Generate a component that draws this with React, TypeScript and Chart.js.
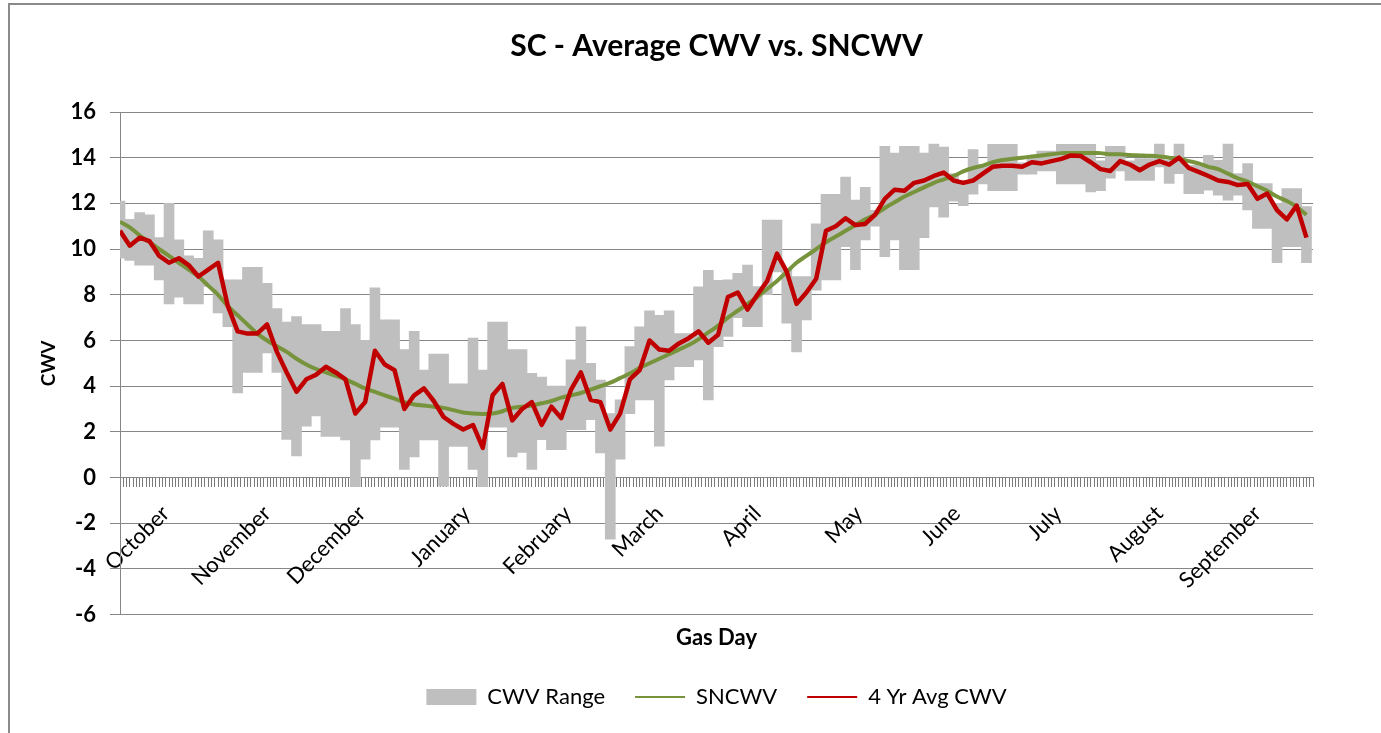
import React, { useEffect, useRef } from 'react';
import { Chart, registerables } from 'chart.js';

Chart.register(...registerables);

// Gas day index (days after 1 October), sampled every 3 days
const gasDays = [
  0, 3, 6, 9, 12, 15, 18, 21, 24, 27,
  30, 33, 36, 39, 42, 45, 48, 51, 54, 57,
  60, 63, 66, 69, 72, 75, 78, 81, 84, 87,
  90, 93, 96, 99, 102, 105, 108, 111, 114, 117,
  120, 123, 126, 129, 132, 135, 138, 141, 144, 147,
  150, 153, 156, 159, 162, 165, 168, 171, 174, 177,
  180, 183, 186, 189, 192, 195, 198, 201, 204, 207,
  210, 213, 216, 219, 222, 225, 228, 231, 234, 237,
  240, 243, 246, 249, 252, 255, 258, 261, 264, 267,
  270, 273, 276, 279, 282, 285, 288, 291, 294, 297,
  300, 303, 306, 309, 312, 315, 318, 321, 324, 327,
  330, 333, 336, 339, 342, 345, 348, 351, 354, 357,
  360, 363,
];

// 4 Yr Avg CWV (red)
const avgCwv = [
  10.8, 10.15, 10.5, 10.35, 9.7, 9.4, 9.6, 9.3, 8.8, 9.1,
  9.4, 7.5, 6.4, 6.3, 6.3, 6.7, 5.5, 4.6, 3.75, 4.3,
  4.5, 4.85, 4.6, 4.3, 2.8, 3.3, 5.55, 4.95, 4.7, 3.0,
  3.6, 3.9, 3.35, 2.65, 2.35, 2.1, 2.3, 1.3, 3.6, 4.1,
  2.5, 3.0, 3.3, 2.3, 3.1, 2.6, 3.85, 4.6, 3.4, 3.3,
  2.1, 2.8, 4.3, 4.7, 6.0, 5.6, 5.55, 5.87, 6.1, 6.4,
  5.9, 6.25, 7.9, 8.1, 7.35, 8.0, 8.6, 9.8, 9.0, 7.6,
  8.1, 8.7, 10.8, 11.0, 11.35, 11.05, 11.1, 11.5, 12.2, 12.6,
  12.55, 12.9, 13.0, 13.2, 13.35, 13.0, 12.9, 13.0, 13.3, 13.6,
  13.65, 13.65, 13.6, 13.8, 13.75, 13.85, 13.95, 14.1, 14.07, 13.8,
  13.5, 13.42, 13.85, 13.7, 13.45, 13.7, 13.85, 13.7, 14.0, 13.55,
  13.38, 13.2, 13.0, 12.94, 12.8, 12.85, 12.2, 12.43, 11.7, 11.3,
  11.9, 10.5,
];

// SNCWV (green)
const sncwv = [
  11.2, 10.95, 10.6, 10.3, 10.0, 9.7, 9.4, 9.1, 8.8, 8.4,
  8.0, 7.5, 7.1, 6.7, 6.3, 6.0, 5.75, 5.5, 5.2, 4.95,
  4.75, 4.6, 4.45, 4.3, 4.1, 3.9, 3.75, 3.6, 3.45, 3.3,
  3.2, 3.15, 3.1, 3.05, 2.95, 2.85, 2.8, 2.78, 2.8, 2.9,
  3.05, 3.1, 3.15, 3.25, 3.35, 3.5, 3.6, 3.7, 3.85, 4.0,
  4.15, 4.35, 4.55, 4.8, 5.0, 5.2, 5.4, 5.6, 5.8, 6.05,
  6.35, 6.65, 7.0, 7.3, 7.6, 7.9, 8.25, 8.6, 9.0, 9.4,
  9.7, 10.0, 10.3, 10.55, 10.8, 11.05, 11.3, 11.5, 11.8, 12.05,
  12.3, 12.5, 12.7, 12.9, 13.05, 13.2, 13.4, 13.55, 13.65, 13.8,
  13.9, 13.95, 14.0, 14.05, 14.1, 14.15, 14.2, 14.2, 14.2, 14.2,
  14.2, 14.15, 14.15, 14.12, 14.1, 14.08, 14.05, 14.0, 13.95, 13.85,
  13.75, 13.6, 13.5, 13.3, 13.1, 12.95, 12.75, 12.55, 12.3, 12.1,
  11.85, 11.5,
];

// CWV Range: minimum
const cwvLow = [
  9.6, 9.5, 9.3, 9.3, 8.65, 7.6, 7.9, 7.6, 7.6, 8.36,
  7.2, 6.6, 3.7, 4.6, 4.6, 5.45, 4.6, 1.67, 0.95, 2.25,
  2.7, 1.8, 1.8, 1.65, -0.4, 0.8, 1.65, 2.2, 2.2, 0.35,
  0.9, 1.65, 1.65, -0.38, 1.36, 1.36, 0.35, -0.4, 2.2, 2.2,
  0.9, 1.1, 0.35, 1.66, 1.22, 1.22, 2.1, 2.1, 2.53, 1.08,
  -2.7, 0.8, 2.8, 3.4, 3.4, 1.37, 4.27, 4.85, 4.85, 5.15,
  3.4, 5.73, 6.18, 7.0, 6.6, 6.6, 8.0, 9.0, 6.76, 5.5,
  6.9, 8.2, 8.65, 8.65, 10.1, 9.1, 10.4, 11.0, 9.67, 10.4,
  9.1, 9.1, 10.5, 11.85, 11.4, 12.1, 11.9, 12.4, 12.85, 12.56,
  12.56, 12.56, 13.28, 13.28, 13.42, 13.42, 12.85, 12.85, 12.85, 12.5,
  12.56, 13.1, 13.42, 13.0, 13.0, 13.0, 13.6, 12.87, 13.3, 12.43,
  12.43, 12.58, 12.36, 12.14, 12.36, 11.71, 10.9, 10.9, 9.4, 10.1,
  10.1, 9.4,
];

// CWV Range: maximum
const cwvHigh = [
  12.1, 11.3, 11.6, 11.5, 10.5, 12.0, 10.4, 9.7, 9.6, 10.8,
  10.4, 8.65, 8.65, 9.2, 9.2, 8.5, 7.4, 6.8, 7.05, 6.7,
  6.7, 6.4, 6.4, 7.4, 6.7, 6.0, 8.3, 6.9, 6.9, 5.6,
  6.4, 4.7, 5.4, 5.4, 4.1, 4.1, 6.1, 4.7, 6.8, 6.8,
  5.6, 5.6, 4.56, 4.4, 4.0, 4.0, 5.15, 6.6, 5.0, 4.27,
  2.8, 3.4, 5.73, 6.6, 7.3, 7.1, 7.3, 6.3, 6.3, 8.35,
  9.07, 8.63, 8.65, 8.94, 9.3, 8.36, 11.27, 11.27, 9.1, 8.8,
  8.8, 11.1, 12.4, 12.4, 13.15, 12.14, 12.7, 11.7, 14.5, 14.2,
  14.5, 14.5, 14.2, 14.6, 14.46, 13.3, 13.0, 14.36, 13.7, 14.58,
  14.58, 14.58, 13.78, 14.1, 14.29, 14.29, 14.58, 14.58, 14.58, 14.58,
  13.86, 14.5, 14.5, 13.86, 13.96, 13.96, 14.6, 13.9, 14.6, 13.67,
  13.67, 14.1, 13.88, 14.6, 13.3, 13.74, 12.87, 12.87, 12.0, 12.65,
  12.65, 11.86,
];

const monthNames = [
  'October', 'November', 'December', 'January', 'February', 'March',
  'April', 'May', 'June', 'July', 'August', 'September',
];
const monthLabelDays = [14, 45, 74, 106, 137, 165, 195, 226, 256, 287, 318, 348];

const TITLE = 'SC - Average CWV vs. SNCWV';
const X_TITLE = 'Gas Day';
const Y_TITLE = 'CWV';
const Y_MIN = -6;
const Y_MAX = 16;
const Y_STEP = 2;
const DAY_COUNT = 365;

const GREY = '#BFBFBF';
const GREEN = '#77933C';
const RED = '#C00000';
const AXIS = '#868686';

export default function App() {
  const canvasRef = useRef<HTMLCanvasElement | null>(null);

  useEffect(() => {
    const canvas = canvasRef.current;
    if (!canvas) return;
    Chart.defaults.font.family = 'Lato';

    const chart = new Chart(canvas, {
      type: 'bar',
      data: {
        datasets: [
          {
            type: 'line',
            label: '4 Yr Avg CWV',
            data: gasDays.map((d, i) => ({ x: d, y: avgCwv[i] })),
            borderColor: RED,
            backgroundColor: RED,
            borderWidth: 4.5,
            pointRadius: 0,
            tension: 0,
            borderJoinStyle: 'round',
            order: 1,
          } as any,
          {
            type: 'line',
            label: 'SNCWV',
            data: gasDays.map((d, i) => ({ x: d, y: sncwv[i] })),
            borderColor: GREEN,
            backgroundColor: GREEN,
            borderWidth: 4,
            pointRadius: 0,
            tension: 0.3,
            order: 2,
          } as any,
          {
            type: 'bar',
            label: 'CWV Range',
            data: gasDays.map((d, i) => ({ x: d, y: [cwvLow[i], cwvHigh[i]] })),
            backgroundColor: GREY,
            borderWidth: 0,
            barThickness: 10,
            grouped: false,
            order: 3,
          } as any,
        ],
      },
      options: {
        animation: false,
        responsive: true,
        maintainAspectRatio: false,
        devicePixelRatio: 1,
        layout: { padding: { top: 0, left: 0, right: 68, bottom: 15 } },
        plugins: {
          tooltip: { enabled: false },
          title: {
            display: true,
            text: TITLE,
            color: '#000',
            fullSize: false,
            font: { size: 30, weight: 'bold' },
            padding: { top: 28, bottom: 48 },
          },
          subtitle: {
            display: true,
            text: X_TITLE,
            position: 'bottom',
            fullSize: false,
            color: '#000',
            font: { size: 22, weight: 'bold' },
            padding: { top: 10, bottom: 5 },
            weight: 500,
          } as any,
          legend: {
            position: 'bottom',
            fullSize: false,
            labels: {
              usePointStyle: true,
              pointStyleWidth: 50,
              boxHeight: 16,
              padding: 30,
              color: '#000',
              font: { size: 22 },
              generateLabels: () => [
                { text: 'CWV Range', fillStyle: GREY, strokeStyle: GREY, lineWidth: 0, pointStyle: 'rect', hidden: false, datasetIndex: 2, fontColor: '#000' },
                { text: 'SNCWV', fillStyle: GREEN, strokeStyle: GREEN, lineWidth: 2, pointStyle: 'line', hidden: false, datasetIndex: 1, fontColor: '#000' },
                { text: '4 Yr Avg CWV', fillStyle: RED, strokeStyle: RED, lineWidth: 2, pointStyle: 'line', hidden: false, datasetIndex: 0, fontColor: '#000' },
              ] as any,
            },
          },
        },
        scales: {
          x: {
            type: 'linear',
            position: { y: 0 } as any,
            min: 0,
            max: DAY_COUNT,
            offset: false,
            grid: {
              display: true,
              drawOnChartArea: false,
              drawTicks: true,
              tickLength: 9,
              color: '#7a7a7a',
              offset: false,
            },
            border: { display: true, color: AXIS, width: 1 },
            afterBuildTicks: (scale: any) => {
              const t: { value: number }[] = [];
              for (let v = 0; v <= DAY_COUNT; v++) t.push({ value: v });
              scale.ticks = t;
            },
            ticks: {
              autoSkip: false,
              minRotation: 45,
              maxRotation: 45,
              padding: 14,
              color: '#000',
              font: { size: 22 },
              callback: (value: any) => {
                const k = monthLabelDays.indexOf(Number(value));
                return k >= 0 ? monthNames[k] : '';
              },
            },
          } as any,
          y: {
            type: 'linear',
            position: 'left',
            min: Y_MIN,
            max: Y_MAX,
            afterFit: (scale: any) => {
              scale.width = 120;
            },
            grid: {
              color: AXIS,
              lineWidth: 1,
              drawTicks: true,
              tickLength: 10,
            },
            border: { display: true, color: AXIS, width: 1 },
            ticks: {
              stepSize: Y_STEP,
              padding: 14,
              color: '#000',
              font: { size: 22, weight: 'bold' },
            },
            title: {
              display: true,
              text: Y_TITLE,
              color: '#000',
              font: { size: 19, weight: 'bold' },
              padding: { top: 37, bottom: 0 },
            },
          } as any,
        },
      },
    });

    return () => chart.destroy();
  }, []);

  return (
    <div
      style={{
        position: 'fixed',
        left: 0,
        top: 0,
        width: 1381,
        height: 733,
        background: '#fff',
        overflow: 'hidden',
      }}
    >
      <canvas ref={canvasRef} />
      <div
        style={{
          position: 'absolute',
          left: 8,
          top: 3,
          width: 1450,
          height: 800,
          border: '2px solid #8a8a8a',
          pointerEvents: 'none',
        }}
      />
    </div>
  );
}
